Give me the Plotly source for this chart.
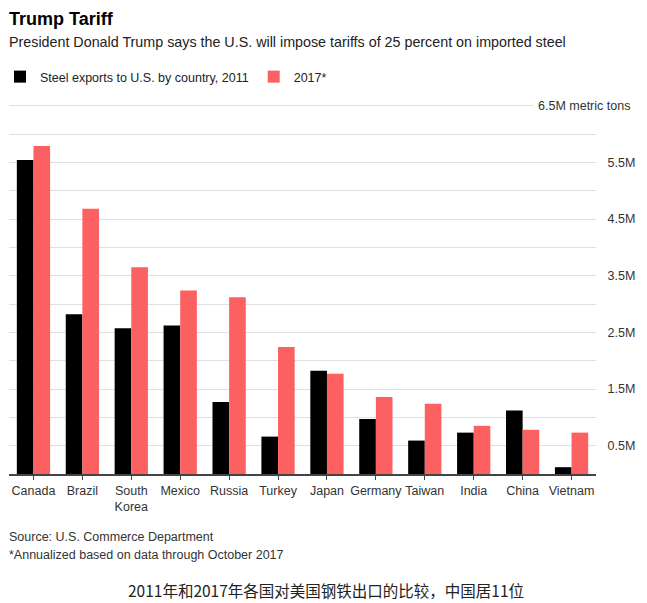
import plotly.graph_objects as go

# ---- data ----
countries = ["Canada", "Brazil", "South<br>Korea", "Mexico", "Russia", "Turkey",
             "Japan", "Germany", "Taiwan", "India", "China", "Vietnam"]
exports_2011 = [5.54, 2.82, 2.57, 2.62, 1.27, 0.66, 1.82, 0.97, 0.59, 0.73, 1.12, 0.12]
exports_2017 = [5.79, 4.68, 3.65, 3.24, 3.12, 2.24, 1.77, 1.36, 1.24, 0.85, 0.78, 0.73]
series_names = ["Steel exports to U.S. by country, 2011", "2017*"]
y_tick_vals = [0.5, 1.0, 1.5, 2.0, 2.5, 3.0, 3.5, 4.0, 4.5, 5.0, 5.5, 6.0, 6.5]
y_tick_text = ["0.5M", "", "1.5M", "", "2.5M", "", "3.5M", "", "4.5M", "", "5.5M", "", ""]
top_label = "6.5M metric tons"

title = "Trump Tariff"
subtitle = "President Donald Trump says the U.S. will impose tariffs of 25 percent on imported steel"
source = "Source: U.S. Commerce Department"
note = "*Annualized based on data through October 2017"
caption = "2011年和2017年各国对美国钢铁出口的比较，中国居11位"

# ---- layout geometry ----
W, H = 647, 603
ML, MR, MT, MB = 9, 51, 100, 129
PW = W - ML - MR
PH = H - MT - MB

def px(x):
    return (x - ML) / PW

def py(y):
    return (H - MB - y) / PH

FONT = "Liberation Sans, Arial, sans-serif"

fig = go.Figure()
fig.add_trace(go.Bar(x=countries, y=exports_2011, name=series_names[0],
                     marker=dict(color="#000000", line=dict(width=0))))
fig.add_trace(go.Bar(x=countries, y=exports_2017, name=series_names[1],
                     marker=dict(color="#fd6060", line=dict(width=0))))

fig.update_layout(
    width=W, height=H,
    margin=dict(l=ML, r=MR, t=MT, b=MB, autoexpand=False),
    paper_bgcolor="white", plot_bgcolor="white",
    barmode="group", bargap=0.32, bargroupgap=0,
    font=dict(family=FONT, size=12.5, color="#333333"),
    showlegend=True,
    legend=dict(orientation="h", xref="container", yref="container",
                x=-4 / W, y=1 - 77 / H, xanchor="left", yanchor="middle",
                font=dict(size=12.5, color="#222222"), bgcolor="rgba(0,0,0,0)",
                itemclick=False, traceorder="normal"),
    xaxis=dict(showline=True, linecolor="#444444", linewidth=1.5,
               ticks="outside", ticklen=4, tickcolor="#444444", tickwidth=1,
               tickfont=dict(size=12.5, color="#333333"), fixedrange=True),
    yaxis=dict(range=[0, 6.6], side="right", tickvals=y_tick_vals, ticktext=y_tick_text,
               showgrid=True, gridcolor="#e0e0e0", gridwidth=1, zeroline=False,
               showline=False, ticks="outside", ticklen=8, tickcolor="rgba(0,0,0,0)",
               tickfont=dict(size=12.5, color="#333333"), fixedrange=True),
)

annotations = [
    dict(text="<b>" + title + "</b>", x=px(7), y=py(19), font=dict(size=18, color="#000000")),
    dict(text=subtitle, x=px(7), y=py(42), font=dict(size=14.3, color="#222222")),
    dict(text=source, x=px(7), y=py(537), font=dict(size=12.5, color="#333333")),
    dict(text=note, x=px(7), y=py(555), font=dict(size=12.5, color="#333333")),
]
for a in annotations:
    a.update(xref="paper", yref="paper", xanchor="left", yanchor="middle",
             showarrow=False, align="left")
    fig.add_annotation(**a)

fig.add_annotation(text=top_label, xref="paper", yref="y", x=px(635), y=6.5,
                   xanchor="right", yanchor="middle", showarrow=False,
                   bgcolor="white", borderpad=4,
                   font=dict(size=12.5, color="#333333"))
fig.add_annotation(text=caption, xref="paper", yref="paper", x=px(326), y=py(590),
                   xanchor="center", yanchor="middle", showarrow=False,
                   font=dict(family="Noto Sans CJK SC", size=15.5, color="#222222"))

fig.write_html("out.html")
